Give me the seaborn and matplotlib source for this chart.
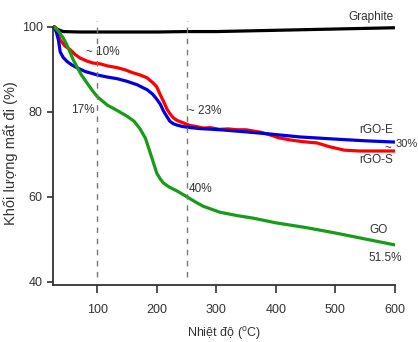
import matplotlib
matplotlib.use("Agg")
import matplotlib.pyplot as plt
import seaborn as sns
from matplotlib import font_manager

# TGA curves (temperature in C, remaining mass in %)
t_graphite = [28, 32, 43, 70, 100, 150, 200, 250, 300, 400, 500, 600]
w_graphite = [100, 99.5, 98.9, 98.8, 98.8, 98.8, 98.8, 98.9, 98.9, 99.2, 99.5, 99.8]

t_rgo_s = [28, 31, 38, 46, 55, 63, 71, 82, 93, 105, 118, 134, 147, 160, 172, 184, 194, 200,
           206, 211, 217, 222, 228, 234, 245, 256, 265, 278, 290, 305, 320, 335, 350, 362,
           375, 390, 405, 424, 445, 469, 490, 515, 540, 570, 600]
w_rgo_s = [100, 99.7, 96.9, 95.5, 94.6, 93.5, 92.7, 92.0, 91.5, 91.3, 90.8, 90.4, 89.9, 89.2,
           88.7, 88.0, 86.8, 85.9, 84.0, 82.6, 80.7, 79.6, 78.6, 78.0, 77.4, 76.8, 76.6, 76.2,
           76.3, 75.9, 76.0, 75.8, 75.8, 75.5, 75.2, 74.6, 73.9, 73.4, 73.0, 72.7, 71.8, 71.0,
           70.8, 70.8, 70.8]

t_rgo_e = [28, 32, 35, 38, 43, 50, 58, 66, 80, 100, 117, 134, 150, 167, 184, 193, 200, 206,
           211, 217, 222, 228, 234, 242, 251, 270, 306, 350, 390, 441, 500, 550, 600]
w_rgo_e = [100, 98.5, 96.9, 94.1, 92.8, 91.8, 91.0, 90.4, 89.5, 88.7, 88.2, 87.8, 87.2, 86.4,
           85.2, 84.2, 83.0, 81.8, 80.3, 78.9, 77.8, 77.2, 76.9, 76.6, 76.4, 76.1, 75.8, 75.3,
           74.8, 74.1, 73.6, 73.2, 72.9]

t_go = [28, 35, 43, 49, 55, 60, 66, 74, 83, 92, 100, 117, 134, 150, 162, 172, 181, 189, 195,
        200, 206, 211, 220, 234, 251, 265, 278, 306, 335, 362, 400, 450, 500, 550, 600]
w_go = [100, 99.0, 97.4, 95.8, 93.9, 92.2, 90.6, 88.6, 86.8, 85.0, 83.6, 81.6, 80.3, 79.0,
        77.8, 76.0, 73.8, 70.4, 67.8, 65.6, 64.2, 63.3, 62.4, 61.4, 60.0, 58.8, 57.8, 56.4,
        55.6, 55.0, 53.9, 52.8, 51.5, 50.1, 48.7]

series = [
    (t_graphite, w_graphite, "black"),
    (t_rgo_s, w_rgo_s, "#ff0000"),
    (t_rgo_e, w_rgo_e, "#0000dd"),
    (t_go, w_go, "#169c16"),
]

sns.set_style("ticks")
names = {f.name for f in font_manager.fontManager.ttflist}
fam = "Liberation Sans Narrow" if "Liberation Sans Narrow" in names else "Liberation Sans"
plt.rcParams["font.family"] = [fam, "DejaVu Sans"]
plt.rcParams["mathtext.fontset"] = "custom"
plt.rcParams["mathtext.rm"] = fam

fig = plt.figure(figsize=(4.18, 3.42), dpi=100)
ax = fig.add_axes([0.127, 0.167, 0.818, 0.773])

for tx, wy, col in series:
    sns.lineplot(x=tx, y=wy, color=col, lw=2.3, sort=False, ax=ax)

for xv in [100, 250]:
    ax.plot([xv, xv], [41.2, 101.3], ls=(0, (4, 4)), color="#777777", lw=1)

ax.set_xlim(26, 600)
ax.set_ylim(39.3, 101.5)
ax.set_xticks([100, 200, 300, 400, 500, 600])
ax.set_yticks([40, 60, 80, 100])
sns.despine(ax=ax)
ax.spines["left"].set_bounds(39.3, 100)
for s in ["left", "bottom"]:
    ax.spines[s].set_color("#333333")
    ax.spines[s].set_linewidth(1.3)
ax.tick_params(axis="x", length=6, width=1.2, color="#333333", labelsize=9, labelcolor="#333333", pad=8)
ax.tick_params(axis="y", length=4.5, width=1.2, color="#333333", labelsize=9, labelcolor="#333333", pad=3)

ax.set_xlabel("Nhiệt độ ($^{\\mathrm{o}}$C)", fontsize=9, color="#333333", labelpad=6)
ax.set_ylabel("Khối lượng mất đi (%)", fontsize=10.5, color="#333333", labelpad=3)

tk = dict(fontsize=8.5, color="#333333")
ax.text(598, 102.3, "Graphite", ha="right", va="center", **tk)
ax.text(110, 94.2, "~ 10%", ha="center", va="center", **tk)
ax.text(76, 80.5, "17%", ha="center", va="center", **tk)
ax.text(252, 80.2, "~ 23%", ha="left", va="center", **tk)
ax.text(253, 61.8, "40%", ha="left", va="center", **tk)
ax.text(597, 75.8, "rGO-E", ha="right", va="center", **tk)
ax.text(588, 71.6, "~", ha="center", va="center", **tk)
ax.text(638, 72.5, "30%", ha="right", va="center", clip_on=False, fontsize=8, color="#333333")
ax.text(597, 68.7, "rGO-S", ha="right", va="center", **tk)
ax.text(588, 52.2, "GO", ha="right", va="center", **tk)
ax.text(612, 45.6, "51.5%", ha="right", va="center", clip_on=False, **tk)

fig.savefig("out.png", dpi=100)
